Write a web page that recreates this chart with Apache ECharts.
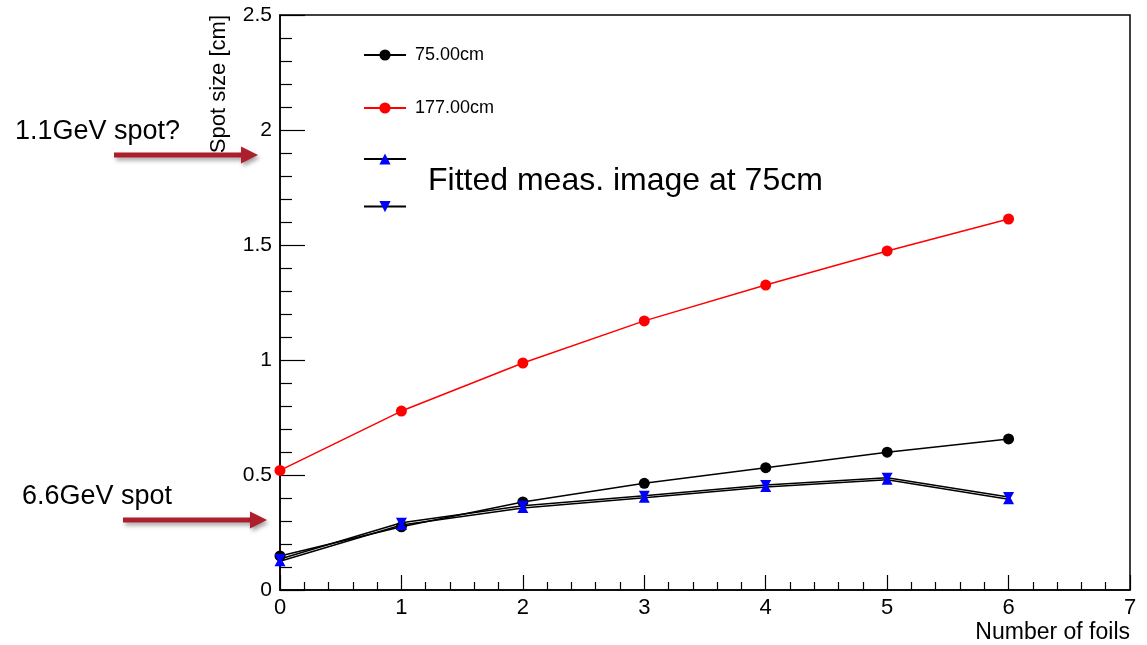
<!DOCTYPE html>
<html>
<head>
<meta charset="utf-8">
<script src="https://cdn.jsdelivr.net/npm/echarts@6/dist/echarts.min.js"></script>
<style>
  html, body { margin: 0; padding: 0; background: #fff; }
  #chart { width: 1147px; height: 645px; }
</style>
</head>
<body>
<div id="chart"></div>
<script>
// Spot size versus number of foils
const foils = [0, 1, 2, 3, 4, 5, 6];
const spot75 = [0.148, 0.275, 0.383, 0.464, 0.532, 0.599, 0.657];
const spot177 = [0.52, 0.778, 0.987, 1.17, 1.326, 1.474, 1.613];
const fitUp = [0.125, 0.283, 0.357, 0.401, 0.448, 0.479, 0.395];
const fitDown = [0.135, 0.292, 0.366, 0.410, 0.457, 0.488, 0.404];

const seriesNames = ['75.00cm', '177.00cm', 'fitUp', 'fitDown'];
const legendLabels = ['75.00cm', '177.00cm', '', ''];

const xTicks = [0, 1, 2, 3, 4, 5, 6, 7];
const yTicks = [0, 0.5, 1, 1.5, 2, 2.5];

const FONT = '"Liberation Sans", Arial, Helvetica, sans-serif';
const ARROW_RED = '#ad1f2d';

function pairs(ys) {
  return foils.map((x, i) => [x, ys[i]]);
}

function arrow(x1, x2, y) {
  const shadow = {
    shadowBlur: 4,
    shadowOffsetX: 2,
    shadowOffsetY: 3,
    shadowColor: 'rgba(0,0,0,0.35)'
  };
  return {
    type: 'group',
    z: 20,
    children: [
      {
        type: 'rect',
        shape: { x: x1, y: y - 2.5, width: x2 - x1 - 14, height: 5 },
        style: Object.assign({ fill: ARROW_RED }, shadow)
      },
      {
        type: 'polygon',
        shape: { points: [[x2 - 17, y - 8.5], [x2, y], [x2 - 17, y + 8.5]] },
        style: Object.assign({ fill: ARROW_RED }, shadow)
      }
    ]
  };
}

function label(text, x, y, size, align) {
  return {
    type: 'text',
    x: x, y: y,
    style: {
      text: text, fontFamily: FONT, fontSize: size, fill: '#000',
      align: align, verticalAlign: 'middle'
    }
  };
}

const chart = echarts.init(document.getElementById('chart'), null, { renderer: 'canvas' });

const option = {
  backgroundColor: '#ffffff',
  animation: false,
  grid: {
    left: 280, right: 17, top: 15, bottom: 55,
    show: true, borderColor: '#000', borderWidth: 1.5, backgroundColor: 'transparent'
  },
  legend: {
    orient: 'vertical',
    left: 358,
    top: 41,
    itemWidth: 42,
    itemHeight: 14,
    itemGap: 35,
    selectedMode: false,
    data: seriesNames,
    formatter: name => legendLabels[seriesNames.indexOf(name)],
    textStyle: { fontFamily: FONT, fontSize: 18, color: '#000', padding: [0, 0, 0, 4] }
  },
  xAxis: {
    type: 'value',
    min: xTicks[0],
    max: xTicks[xTicks.length - 1],
    interval: 1,
    axisLine: { lineStyle: { color: '#000', width: 1.5 } },
    axisTick: { inside: true, length: 15, lineStyle: { color: '#000', width: 1.2 } },
    minorTick: { show: true, splitNumber: 5, length: 8, lineStyle: { color: '#000', width: 1.2 } },
    splitLine: { show: false },
    axisLabel: { color: '#000', fontFamily: FONT, fontSize: 22, margin: 7 }
  },
  yAxis: {
    type: 'value',
    min: yTicks[0],
    max: yTicks[yTicks.length - 1],
    interval: 0.5,
    axisLine: { lineStyle: { color: '#000', width: 1.5 } },
    axisTick: { inside: true, length: 25, lineStyle: { color: '#000', width: 1.2 } },
    minorTick: { show: true, splitNumber: 5, length: 12, lineStyle: { color: '#000', width: 1.2 } },
    splitLine: { show: false },
    axisLabel: { color: '#000', fontFamily: FONT, fontSize: 21, margin: 8 }
  },
  series: [
    {
      name: seriesNames[0],
      type: 'line',
      data: pairs(spot75),
      symbol: 'circle',
      symbolSize: 11,
      itemStyle: { color: '#000' },
      lineStyle: { color: '#000', width: 1.5 },
      z: 2
    },
    {
      name: seriesNames[1],
      type: 'line',
      data: pairs(spot177),
      symbol: 'circle',
      symbolSize: 11,
      itemStyle: { color: '#ff0000' },
      lineStyle: { color: '#ff0000', width: 1.5 },
      z: 3
    },
    {
      name: seriesNames[2],
      type: 'line',
      data: pairs(fitUp),
      symbol: 'triangle',
      symbolSize: [11, 10],
      itemStyle: { color: '#0000ff' },
      lineStyle: { color: '#000', width: 1.5 },
      z: 4
    },
    {
      name: seriesNames[3],
      type: 'line',
      data: pairs(fitDown),
      symbol: 'triangle',
      symbolRotate: 180,
      symbolSize: [11, 10],
      itemStyle: { color: '#0000ff' },
      lineStyle: { color: '#000', width: 1.5 },
      z: 5
    }
  ],
  graphic: [
    {
      type: 'text',
      x: 219, y: 15,
      rotation: Math.PI / 2,
      z: 10,
      style: {
        text: 'Spot size [cm]', fontFamily: FONT, fontSize: 22, fill: '#000',
        align: 'right', verticalAlign: 'middle'
      }
    },
    label('Number of foils', 1130, 633, 23, 'right'),
    label('Fitted meas. image at 75cm', 428, 181, 32, 'left'),
    label('1.1GeV spot?', 15, 132, 27, 'left'),
    label('6.6GeV spot', 22, 497, 27, 'left'),
    arrow(114, 258, 155),
    arrow(123, 267, 520)
  ]
};

chart.setOption(option);
</script>
</body>
</html>
